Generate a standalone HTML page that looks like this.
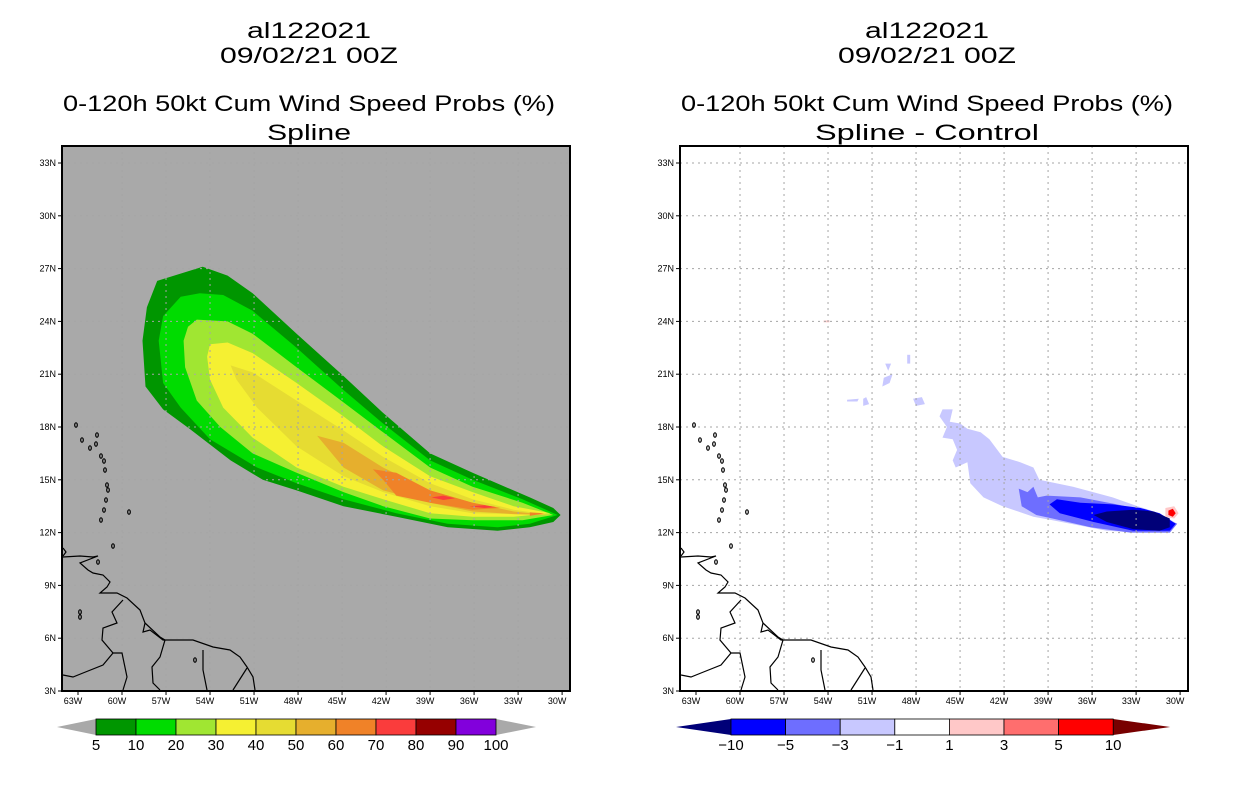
<!DOCTYPE html>
<html><head><meta charset="utf-8"><style>
html,body{margin:0;padding:0;background:#fff;width:1236px;height:800px;overflow:hidden}
svg{display:block}
text{font-family:"Liberation Sans",sans-serif;fill:#000}
</style></head><body>
<svg id="s" width="1236" height="800" viewBox="0 0 1236 800" xmlns="http://www.w3.org/2000/svg"></svg>
<script>
// ---- data ----
const latTicks=[33,30,27,24,21,18,15,12,9,6,3];
const lonTicks=[63,60,57,54,51,48,45,42,39,36,33,30];
const probLevels=[5,10,20,30,40,50,60,70,80,90,100];
const probColors=["#009600","#00dc00","#a0e632","#f5f032","#e6dc32","#e6af2d","#f08228","#fa3c3c","#960000","#8200dc"];
const diffLevels=[-10,-5,-3,-1,1,3,5,10];
const diffColors=["#000078","#0000ff","#6e6eff","#c8c8ff","#ffffff","#ffc8c8","#ff6e6e","#ff0000"];
// probability contours: [lon W, lat N]
const p5=[[57.6,26.3],[54.5,27.1],[52.8,26.6],[51.1,25.6],[48.1,23.3],[44.9,20.9],[42.2,18.8],[39.0,16.5],[36.1,15.4],[32.2,14.0],[30.6,13.4],[30.1,13.0],[30.6,12.6],[32.2,12.3],[34.4,12.1],[37.8,12.3],[41.3,12.9],[44.9,13.5],[48.1,14.4],[50.4,15.0],[52.6,16.1],[55.4,17.9],[57.2,19.0],[58.4,20.3],[58.6,22.9],[58.3,24.8]];
const p10=[[56.0,25.4],[54.7,25.6],[53.1,25.5],[51.1,24.6],[48.1,22.5],[44.9,20.1],[42.2,18.2],[39.0,16.1],[36.1,15.0],[32.7,13.9],[30.3,13.0],[32.2,12.5],[34.4,12.3],[37.8,12.5],[41.3,13.1],[44.9,13.9],[48.1,14.8],[50.8,15.7],[54.0,17.3],[56.0,19.1],[57.2,20.5],[57.5,22.9],[57.2,24.3]];
const p20=[[54.9,24.1],[52.8,24.0],[51.1,23.3],[48.1,21.4],[44.9,19.4],[42.2,17.7],[39.0,15.7],[36.1,14.6],[32.7,13.7],[30.6,13.0],[32.7,12.7],[36.1,12.7],[39.0,12.8],[42.2,13.5],[44.9,14.3],[48.1,15.4],[51.1,16.5],[53.3,18.0],[54.9,19.5],[55.7,21.4],[55.8,22.9],[55.5,23.7]];
const p30=[[54.0,22.7],[52.8,22.8],[51.1,22.2],[48.1,20.5],[44.9,18.6],[42.2,16.9],[39.0,15.2],[36.1,14.3],[33.3,13.5],[30.8,13.1],[33.3,12.9],[36.1,12.9],[39.0,13.1],[42.2,13.9],[44.9,14.6],[48.1,15.7],[51.1,17.4],[53.1,19.1],[54.0,20.7],[54.2,22.0]];
const p40=[[52.6,21.5],[51.1,21.1],[48.1,19.5],[44.9,17.8],[42.2,16.3],[39.0,14.8],[36.1,13.9],[33.3,13.3],[30.8,13.0],[33.3,13.05],[36.1,13.1],[39.0,13.5],[42.2,14.3],[44.9,15.2],[48.1,16.9],[50.8,19.1],[52.2,20.7]];
const p50=[[46.7,17.5],[44.9,17.1],[42.2,15.7],[39.0,14.4],[36.1,13.7],[33.3,13.2],[31.0,13.0],[33.3,13.05],[36.1,13.2],[39.0,13.7],[42.2,14.4],[44.9,15.7]];
const p60=[[42.9,15.6],[41.3,15.4],[39.0,14.4],[36.1,13.7],[34.2,13.4],[36.1,13.3],[39.0,13.7],[41.3,14.1],[42.2,15.0]];
const p60b=[[32.2,13.15],[31.2,13.1],[32.2,12.95]];
const p70a=[[38.9,14.0],[38.1,14.1],[37.3,13.95],[38.1,13.85]];
const p70b=[[36.3,13.5],[35.3,13.55],[34.5,13.45],[35.3,13.4]];
const probShapes=[[p5,0],[p10,1],[p20,2],[p30,3],[p40,4],[p50,5],[p60,6],[p60b,6],[p70a,7],[p70b,7]];
// difference contours
const d1=[[46.2,19.0],[45.5,19.0],[45.7,18.3],[45.0,18.2],[44.5,17.9],[43.6,17.7],[43.0,17.3],[42.1,16.3],[40.9,16.0],[40.0,15.7],[39.6,15.0],[37.3,14.6],[34.6,14.0],[32.9,13.5],[31.4,13.1],[30.2,12.5],[30.7,12.0],[32.7,12.0],[35.0,12.1],[38.7,12.7],[40.0,12.9],[42.1,13.5],[43.4,14.0],[44.3,14.8],[44.5,16.0],[45.3,15.7],[45.5,16.1],[45.2,16.7],[45.5,17.3],[46.2,17.4],[45.9,18.0],[46.4,18.6]];
const d1b=[[52.7,19.55],[51.9,19.6],[52.0,19.45],[52.7,19.45]];
const d1c=[[51.6,19.6],[51.4,19.7],[51.2,19.3],[51.6,19.2]];
const d1d=[[50.2,20.8],[49.6,21.0],[49.8,20.5],[50.3,20.3]];
const d1e=[[48.2,19.6],[47.6,19.7],[47.4,19.3],[48.0,19.2]];
const d1f=[[48.6,22.1],[48.4,22.1],[48.4,21.6],[48.6,21.6]];
const d1g=[[50.1,21.6],[49.7,21.6],[49.9,21.2]];
const d3=[[41.0,14.5],[40.4,14.3],[40.0,14.6],[39.7,14.0],[39.1,14.1],[36.8,14.0],[34.3,13.6],[32.7,13.3],[30.2,12.5],[30.7,12.0],[33.4,12.0],[36.1,12.3],[38.7,12.8],[39.8,13.0],[40.8,13.5]];
const d5=[[38.9,13.6],[38.4,13.9],[36.8,13.7],[34.6,13.6],[32.7,13.4],[31.4,13.1],[30.3,12.5],[30.7,12.1],[33.2,12.1],[35.9,12.6],[38.2,13.1]];
const d10=[[35.9,13.0],[35.0,13.2],[33.2,13.3],[31.8,13.2],[30.7,12.8],[30.7,12.3],[31.4,12.1],[33.2,12.2],[35.0,12.6]];
const dp1=[[31.0,13.4],[30.4,13.5],[30.1,13.1],[30.4,12.8],[31.0,12.9]];
const dp1b=[[54.3,24.05],[53.9,24.05],[53.9,23.95],[54.3,23.95]];
const dp5=[[30.8,13.25],[30.5,13.35],[30.3,13.1],[30.5,12.9],[30.8,13.0]];
const diffShapes=[[d1,3],[d1b,3],[d1c,3],[d1d,3],[d1e,3],[d1f,3],[d1g,3],[d3,2],[d5,1],[d10,0],[dp1,5],[dp1b,5],[dp5,7]];
// coastline (left-panel pixel coordinates, geography only)
const coastMain=[[63,557],[80,556],[93,557],[98,556],[80,563],[88,570],[93,573],[103,575],[110,582],[107,587],[100,593],[117,593],[127,598],[140,610],[145,623],[143,632],[150,630],[163,640],[187,640],[193,640],[213,647],[230,650],[240,657],[247,667],[253,677],[255,690]];
const borders=[[[123,600],[112,612],[117,623],[103,628],[102,640],[113,653],[103,665],[83,673],[73,677],[63,675]],[[113,653],[122,653],[127,677],[123,690]],[[145,623],[160,637],[165,640],[160,657],[152,667],[153,683],[160,690]],[[203,650],[203,670],[207,690]],[[247,668],[233,690]],[[63,548],[66,552],[63,556]]];
const islands=[[76,425],[82,440],[90,448],[96,444],[97,435],[101,456],[104,461],[105,470],[107,485],[108,490],[106,500],[104,510],[101,520],[129,512],[113,546],[80,617],[80,612],[195,660],[98,562]];

// ---- drawing ----
const NS="http://www.w3.org/2000/svg";
const svg=document.getElementById('s');
function el(tag,attrs,parent){const e=document.createElementNS(NS,tag);for(const k in attrs)e.setAttribute(k,attrs[k]);(parent||svg).appendChild(e);return e;}
const X0=62,X1=570,Y0=146,Y1=691;
function xScale(lon,off){return off+78+(63-lon)*14.67;}
function yScale(lat){return 691-(lat-3)*17.6;}
function poly(pts,off){return pts.map(p=>xScale(p[0],off).toFixed(1)+","+yScale(p[1]).toFixed(1)).join(" ");}

function panel(off,bg,title4,shapes,colors,name){
  const g=el('g',{});
  
  
  const cx=off+309;
  const titles=[["al122021",30],["09/02/21 00Z",55],["0-120h 50kt Cum Wind Speed Probs (%)",103],[title4,132]];
  const lens=[124,178,492,title4.length*14];
  titles.forEach((t,i)=>{
    const tx=el('text',{x:cx,y:t[1]+8,'text-anchor':'middle','font-size':22,textLength:lens[i],lengthAdjust:'spacingAndGlyphs'},g);
    
    
    tx.textContent=t[0];
  });
  const bgr=el('rect',{x:X0+off,y:Y0,width:X1-X0,height:Y1-Y0,fill:bg},g);
  
  
  const clip=el('clipPath',{id:'c'+off},g);
  el('rect',{x:X0+off,y:Y0,width:X1-X0,height:Y1-Y0},clip);
  const mg=el('g',{'clip-path':'url(#c'+off+')'},g);
  shapes.forEach(s=>{
    const p=el('polygon',{points:poly(s[0],off),fill:colors[s[1]]},mg);
    
    
  });
  // grid
  lonTicks.forEach(l=>{ if(l<63&&l>30){const x=xScale(l,off);el('line',{x1:x,x2:x,y1:Y0,y2:Y1,stroke:'#a5a5a5','stroke-width':1,'stroke-dasharray':'2,4'},mg);} });
  latTicks.forEach(l=>{ if(l>3){const y=yScale(l);el('line',{x1:X0+off,x2:X1+off,y1:y,y2:y,stroke:'#a5a5a5','stroke-width':1,'stroke-dasharray':'2,4'},mg);} });
  // coast
  const cg=el('g',{fill:'none',stroke:'#000','stroke-width':1.2},mg);
  
  
  el('polyline',{points:coastMain.map(p=>(p[0]+off)+","+p[1]).join(" ")},cg);
  borders.forEach(b=>el('polyline',{points:b.map(p=>(p[0]+off)+","+p[1]).join(" ")},cg));
  islands.forEach(p=>el('ellipse',{cx:p[0]+off,cy:p[1],rx:1.3,ry:2.2},cg));
  // frame
  const fr=el('rect',{x:X0+off,y:Y0,width:X1-X0,height:Y1-Y0,fill:'none',stroke:'#000','stroke-width':2},g);
  
  
  latTicks.forEach(l=>{const y=yScale(l);
    el('line',{x1:X0+off-4,x2:X0+off,y1:y,y2:y,stroke:'#000'},g);
    const t=el('text',{x:X0+off-6,y:y+3,'text-anchor':'end','font-size':9},g);
    
    
    t.textContent=l+"N";});
  lonTicks.forEach(l=>{const x=xScale(l,off);
    el('line',{x1:x,x2:x,y1:Y1,y2:Y1+4,stroke:'#000'},g);
    const t=el('text',{x:x-5,y:Y1+13,'text-anchor':'middle','font-size':9},g);
    
    
    t.textContent=l+"W";});
}
panel(0,'#a9a9a9','Spline',probShapes,probColors,'probability');
panel(618,'#ffffff','Spline - Control',diffShapes,diffColors,'difference');

// colorbar left
(function(){
  const g=el('g',{});
  
  
  const x0=96,w=40,y0=719,h=16,n=probColors.length;
  el('polygon',{points:`57,${y0+h/2} ${x0},${y0} ${x0},${y0+h}`,fill:'#a9a9a9'},g);
  el('polygon',{points:`${x0+n*w+40},${y0+h/2} ${x0+n*w},${y0} ${x0+n*w},${y0+h}`,fill:'#a9a9a9'},g);
  probColors.forEach((c,i)=>{el('rect',{x:x0+i*w,y:y0,width:w,height:h,fill:c,stroke:'#000','stroke-width':0.8},g);});
  probLevels.forEach((v,i)=>{const t=el('text',{x:x0+i*w,y:y0+h+15,'text-anchor':'middle','font-size':15},g);
    
    
    t.textContent=v;});
})();
// colorbar right
(function(){
  const g=el('g',{});
  
  
  const x0=731,w=54.6,y0=719,h=16;
  const mid=diffColors.slice(1);
  el('polygon',{points:`676,${y0+h/2} ${x0},${y0} ${x0},${y0+h}`,fill:diffColors[0]},g);
  const xe=x0+mid.length*w;
  el('polygon',{points:`${xe+57},${y0+h/2} ${xe},${y0} ${xe},${y0+h}`,fill:'#780000'},g);
  mid.forEach((c,i)=>{el('rect',{x:x0+i*w,y:y0,width:w,height:h,fill:c,stroke:'#000','stroke-width':0.8},g);});
  diffLevels.forEach((v,i)=>{const t=el('text',{x:x0+i*w,y:y0+h+15,'text-anchor':'middle','font-size':15},g);
    
    
    t.textContent=(v<0?'\u2212'+(-v):v);});
})();
</script>
</body></html>
